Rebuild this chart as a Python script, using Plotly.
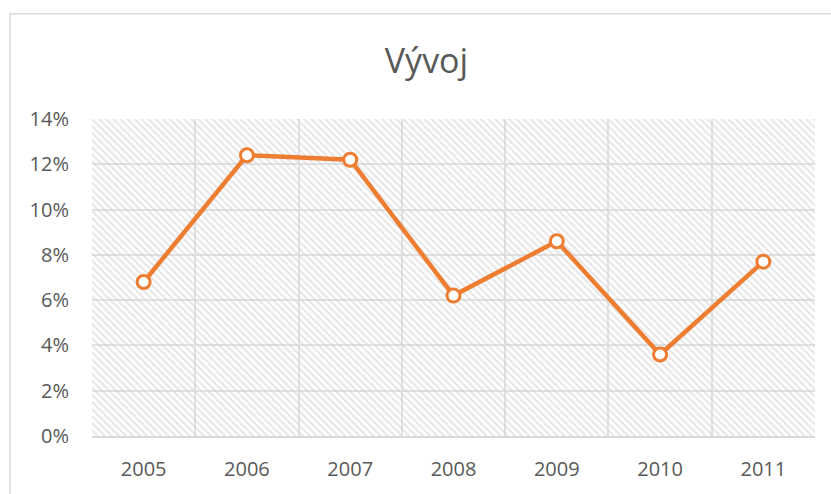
"""
Line chart of the yearly development (Vývoj) in an Excel-like style.
"""

import plotly.graph_objects as go

# Data
years = ['2005', '2006', '2007', '2008', '2009', '2010', '2011']
values = [0.068, 0.124, 0.122, 0.062, 0.086, 0.036, 0.077]
y_max = 0.14

ORANGE = '#ED7D31'
GRID = '#e2e2e2'
BORDER = '#d9d9d9'
TEXT = '#595959'
FONT = 'Open Sans'

fig = go.Figure()

# Hatched plot area background (one full-height bar per category)
fig.add_trace(go.Bar(
    x=years,
    y=[y_max] * len(years),
    width=1,
    marker=dict(
        color='rgba(0,0,0,0)',
        line=dict(width=0),
        pattern=dict(shape='\\', fgcolor='#d0d0d0', bgcolor='rgba(0,0,0,0)',
                     size=5, solidity=0.45, fillmode='overlay'),
    ),
    hoverinfo='skip',
    showlegend=False,
))

# Data line
fig.add_trace(go.Scatter(
    x=years,
    y=values,
    mode='lines+markers',
    line=dict(color=ORANGE, width=4.5),
    marker=dict(size=13, color='white', line=dict(color=ORANGE, width=3)),
    showlegend=False,
))

# Chart area border
fig.add_shape(
    type='rect', xref='paper', yref='paper',
    x0=(10 - 92) / 723, x1=(900 - 92) / 723,
    y0=(438 - 560) / 319, y1=(438 - 13) / 319,
    line=dict(color=BORDER, width=1.5),
    layer='below',
)

fig.update_layout(
    width=831,
    height=494,
    paper_bgcolor='white',
    plot_bgcolor='white',
    margin=dict(l=92, r=16, t=119, b=56),
    bargap=0,
    title=dict(
        text='Vývoj',
        x=426.5 / 831, xanchor='center', xref='container',
        y=(494 - 61) / 494, yanchor='middle', yref='container',
        font=dict(family=FONT, size=34, color=TEXT),
    ),
    font=dict(family=FONT, size=20, color=TEXT),
    xaxis=dict(
        type='category',
        tickson='boundaries',
        showgrid=True,
        gridcolor=GRID,
        gridwidth=1.5,
        showline=True,
        linecolor=BORDER,
        linewidth=1.5,
        ticks='',
        ticklabelstandoff=14,
        range=[-0.5, len(years) - 0.5],
        mirror=False,
    ),
    yaxis=dict(
        range=[0, y_max],
        dtick=0.02,
        tickformat='.0%',
        showgrid=True,
        gridcolor=GRID,
        gridwidth=1.5,
        zeroline=False,
        showline=False,
        ticks='',
        ticklabelstandoff=22,
    ),
)

# Remove the default page margin so the figure sits at the window origin
fig.write_html('out.html', config={'displayModeBar': False},
               post_script="document.body.style.margin='0';")
